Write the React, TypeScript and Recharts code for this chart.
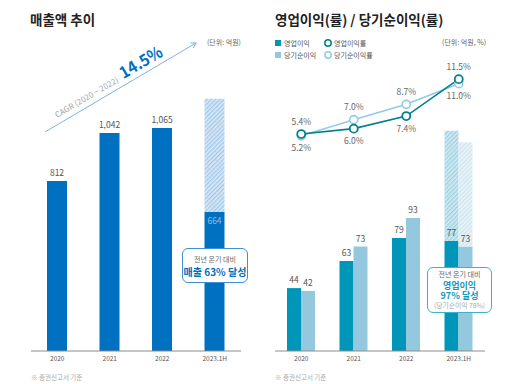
import { Bar, BarChart, ComposedChart, LabelList, Line, XAxis, YAxis } from "recharts";

// 매출액 (억원)
const years = ["2020", "2021", "2022", "2023.1H"];
const sales = [812, 1042, 1065, 664];
const salesOutlook = [0, 0, 0, 1205];

// 영업이익 / 당기순이익 (억원)
const opProfit = [44, 63, 79, 77];
const opOutlook = [0, 0, 0, 154];
const netProfit = [42, 73, 93, 73];
const netOutlook = [0, 0, 0, 146];

// 이익률 (%)
const opMargin = [5.4, 6.0, 7.4, 11.5];
const netMargin = [5.2, 7.0, 8.7, 11.0];

const opLabelSide = [-1, 1, 1, -1];
const netLabelSide = [1, -1, -1, 1];

const FONT = "'Noto Sans CJK KR', 'Noto Sans', sans-serif";
const SALES_BLUE = "#0070c0";
const OP_BLUE = "#0096b9";
const NET_BLUE = "#93c8df";
const OP_LINE = "#00808d";
const NET_LINE = "#93cbe5";

const salesData = years.map((year, i) => ({
  year,
  sales: sales[i],
  rest: salesOutlook[i] ? salesOutlook[i] - sales[i] : 0,
}));

const profitData = years.map((year, i) => ({
  year,
  op: opProfit[i],
  opRest: opOutlook[i] ? opOutlook[i] - opProfit[i] : 0,
  net: netProfit[i],
  netRest: netOutlook[i] ? netOutlook[i] - netProfit[i] : 0,
  opMargin: opMargin[i],
  netMargin: netMargin[i],
}));

const last = years.length - 1;

const salesLabel = (props: any) => {
  const { x, y, width, value, index } = props;
  const inside = index === last;
  return (
    <text
      x={x + width / 2}
      y={inside ? y + 12 : y - 5}
      textAnchor="middle"
      fontSize={8.5}
      fill={inside ? "#8dbde6" : "#555"}
    >
      {Number(value).toLocaleString("en-US")}
    </text>
  );
};

const profitLabel = (props: any) => {
  const { x, y, width, value } = props;
  return (
    <text x={x + width / 2} y={y - 5} textAnchor="middle" fontSize={8.5} fill="#555">
      {value}
    </text>
  );
};

const marginLabel = (sides: number[]) => (props: any) => {
  const { x, y, value, index } = props;
  return (
    <text
      x={x}
      y={y + sides[index] * 12.5 + 3}
      textAnchor="middle"
      fontSize={8.5}
      fill="#666"
    >
      {Number(value).toFixed(1)}%
    </text>
  );
};

const tickStyle = { fontSize: 6.5, fill: "#555" };

const callout: React.CSSProperties = {
  position: "absolute",
  background: "#fff",
  borderRadius: 6,
  display: "flex",
  flexDirection: "column",
  alignItems: "center",
  justifyContent: "center",
  boxSizing: "border-box",
};

const small: React.CSSProperties = { display: "block", fontSize: 7, lineHeight: "9px", color: "#666" };
const big: React.CSSProperties = { display: "block", fontSize: 10, lineHeight: "11px", fontWeight: 700 };
const mid: React.CSSProperties = { display: "block", fontSize: 9, lineHeight: "10px", fontWeight: 700, color: "#1797ba" };

export default function App() {
  return (
    <div
      style={{
        position: "absolute",
        left: 0,
        top: 0,
        width: 512,
        height: 384,
        background: "#fff",
        overflow: "hidden",
        fontFamily: FONT,
      }}
    >
      {/* 매출액 추이 */}
      <div style={{ position: "absolute", left: 0, top: 0 }}>
        <BarChart
          width={256}
          height={384}
          data={salesData}
          margin={{ top: 58, right: 15, bottom: 13, left: 31 }}
        >
          <defs>
            <pattern id="hatchSales" width="3" height="3" patternUnits="userSpaceOnUse" patternTransform="rotate(45)">
              <rect width="3" height="3" fill="#dbeaf7" />
              <rect width="1.4" height="3" fill="#a3c8ea" />
            </pattern>
          </defs>
          <XAxis
            dataKey="year"
            height={20}
            tickLine={false}
            tickSize={0}
            tickMargin={5}
            axisLine={{ stroke: "#8c8c8c" }}
            tick={tickStyle}
          />
          <YAxis hide domain={[0, 1400]} />
          <Bar dataKey="sales" stackId="s" fill={SALES_BLUE} barSize={20} isAnimationActive={false}>
            <LabelList dataKey="sales" content={salesLabel} />
          </Bar>
          <Bar dataKey="rest" stackId="s" fill="url(#hatchSales)" barSize={20} isAnimationActive={false} />
        </BarChart>
      </div>

      {/* 영업이익(률) / 당기순이익(률) */}
      <div style={{ position: "absolute", left: 256, top: 0 }}>
        <ComposedChart
          width={256}
          height={384}
          data={profitData}
          barGap={0}
          margin={{ top: 65, right: 27, bottom: 13, left: 19 }}
        >
          <defs>
            <pattern id="hatchOp" width="3" height="3" patternUnits="userSpaceOnUse" patternTransform="rotate(45)">
              <rect width="3" height="3" fill="#d3ebf2" />
              <rect width="1.4" height="3" fill="#9fd1e2" />
            </pattern>
            <pattern id="hatchNet" width="3" height="3" patternUnits="userSpaceOnUse" patternTransform="rotate(45)">
              <rect width="3" height="3" fill="#eef6fa" />
              <rect width="1.4" height="3" fill="#cbe4ef" />
            </pattern>
          </defs>
          <XAxis
            dataKey="year"
            height={20}
            tickLine={false}
            tickSize={0}
            tickMargin={5}
            axisLine={{ stroke: "#8c8c8c" }}
            tick={tickStyle}
          />
          <YAxis yAxisId="amount" hide domain={[0, 200]} />
          <YAxis yAxisId="rate" hide domain={[-18.7, 13.07]} allowDataOverflow />
          <Bar yAxisId="amount" dataKey="op" stackId="op" fill={OP_BLUE} barSize={14} isAnimationActive={false}>
            <LabelList dataKey="op" content={profitLabel} />
          </Bar>
          <Bar yAxisId="amount" dataKey="opRest" stackId="op" fill="url(#hatchOp)" barSize={14} isAnimationActive={false} />
          <Bar yAxisId="amount" dataKey="net" stackId="net" fill={NET_BLUE} barSize={14} isAnimationActive={false}>
            <LabelList dataKey="net" content={profitLabel} />
          </Bar>
          <Bar yAxisId="amount" dataKey="netRest" stackId="net" fill="url(#hatchNet)" barSize={14} isAnimationActive={false} />
          <Line
            yAxisId="rate"
            dataKey="netMargin"
            stroke={NET_LINE}
            strokeWidth={1.6}
            dot={{ r: 4, fill: "#fff", stroke: NET_LINE, strokeWidth: 1.6 }}
            isAnimationActive={false}
          >
            <LabelList dataKey="netMargin" content={marginLabel(netLabelSide)} />
          </Line>
          <Line
            yAxisId="rate"
            dataKey="opMargin"
            stroke={OP_LINE}
            strokeWidth={1.6}
            dot={{ r: 4, fill: "#fff", stroke: OP_LINE, strokeWidth: 1.8 }}
            isAnimationActive={false}
          >
            <LabelList dataKey="opMargin" content={marginLabel(opLabelSide)} />
          </Line>
        </ComposedChart>
      </div>

      {/* titles, legend, notes */}
      <svg
        width={512}
        height={384}
        style={{ position: "absolute", left: 0, top: 0, pointerEvents: "none" }}
        fontFamily={FONT}
      >
        <defs>
          <marker id="arrowHead" markerWidth="8" markerHeight="8" refX="6" refY="4" orient="auto" markerUnits="userSpaceOnUse">
            <path d="M1,1 L6,4 L1,7" fill="none" stroke="#7fb2df" strokeWidth="1" />
          </marker>
        </defs>
        <text x={30} y={25} fontSize={13.5} fontWeight={700} fill="#222">매출액 추이</text>
        <text x={275} y={25} fontSize={13.5} fontWeight={700} fill="#222">영업이익(률) / 당기순이익(률)</text>

        <text x={241} y={45} fontSize={7} fill="#666" textAnchor="end">(단위: 억원)</text>
        <text x={486} y={45} fontSize={7} fill="#666" textAnchor="end">(단위: 억원, %)</text>

        <line x1={45} y1={132} x2={196} y2={43} stroke="#7fb2df" strokeWidth={1} markerEnd="url(#arrowHead)" />
        <g transform="translate(57,118) rotate(-30.3)">
          <text x={0} y={0} fontSize={8} fill="#a5a5a5" textLength={72} lengthAdjust="spacingAndGlyphs">CAGR (2020 ~ 2022)</text>
          <text x={77} y={0} fontSize={16.5} fontWeight={700} fill={SALES_BLUE} textLength={47} lengthAdjust="spacingAndGlyphs">14.5%</text>
        </g>

        <rect x={275} y={40} width={6} height={6} fill={OP_BLUE} />
        <text x={284} y={46} fontSize={7} fill="#555">영업이익</text>
        <circle cx={328} cy={43} r={3.2} fill="#fff" stroke={OP_LINE} strokeWidth={1.5} />
        <text x={334} y={46} fontSize={7} fill="#555">영업이익률</text>
        <rect x={275} y={52} width={6} height={6} fill={NET_BLUE} />
        <text x={284} y={58} fontSize={7} fill="#555">당기순이익</text>
        <circle cx={328} cy={55} r={3.2} fill="#fff" stroke={NET_LINE} strokeWidth={1.5} />
        <text x={334} y={58} fontSize={7} fill="#555">당기순이익률</text>

        <text x={31} y={380} fontSize={6.5} fill="#aaa">※ 증권신고서 기준</text>
        <text x={275} y={380} fontSize={6.5} fill="#aaa">※ 증권신고서 기준</text>
      </svg>

      <div style={{ ...callout, left: 182, top: 248, width: 66, height: 35, border: "1.5px solid #3d8fd6" }}>
        <span style={small}>전년 온기 대비</span>
        <span style={{ ...big, color: SALES_BLUE, marginTop: 2 }}>매출 63% 달성</span>
      </div>

      <div style={{ ...callout, left: 427, top: 267, width: 65, height: 46, border: "1.5px solid #3fb2cb" }}>
        <span style={small}>전년 온기 대비</span>
        <span style={{ ...mid, marginTop: 2 }}>영업이익</span>
        <span style={mid}>97% 달성</span>
        <span style={{ ...small, fontSize: 6.8, color: "#aaa" }}>(당기순이익 78%)</span>
      </div>
    </div>
  );
}
